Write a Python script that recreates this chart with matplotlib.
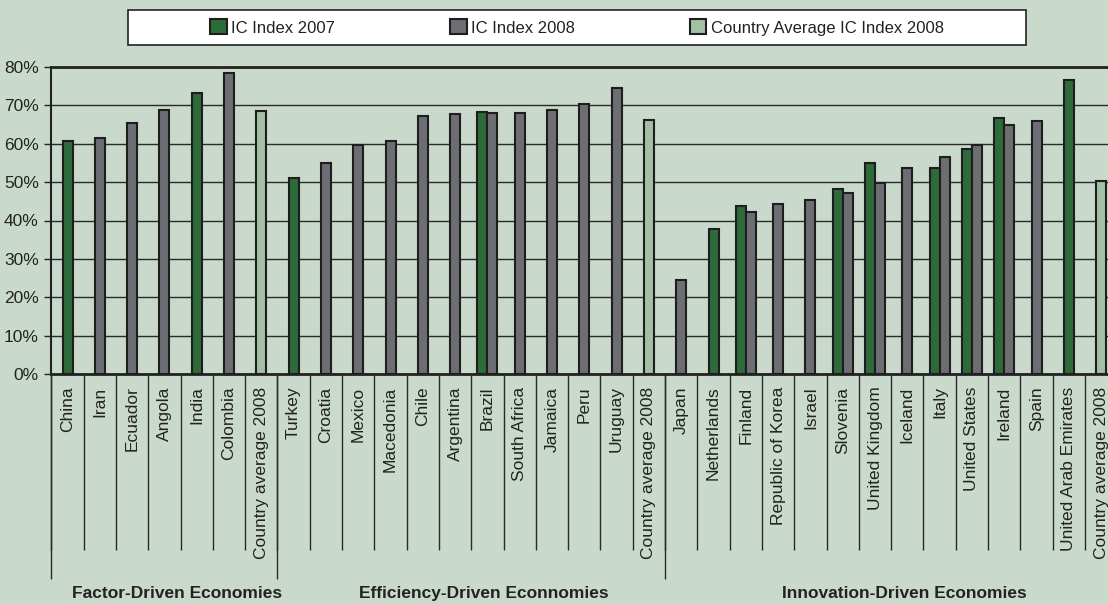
import numpy as np
import matplotlib.pyplot as plt
from matplotlib.patches import Patch, Rectangle

plt.rcParams['font.family'] = ['Liberation Sans', 'DejaVu Sans']

nan = np.nan

countries = [
    "China", "Iran", "Ecuador", "Angola", "India", "Colombia", "Country average 2008",
    "Turkey", "Croatia", "Mexico", "Macedonia", "Chile", "Argentina", "Brazil",
    "South Africa", "Jamaica", "Peru", "Uruguay", "Country average 2008",
    "Japan", "Netherlands", "Finland", "Republic of Korea", "Israel", "Slovenia",
    "United Kingdom", "Iceland", "Italy", "United States", "Ireland", "Spain",
    "United Arab Emirates", "Country average 2008",
]

ic_2007 = [
    60.6, nan, nan, nan, 73.2, nan, nan,
    51.1, nan, nan, nan, nan, nan, 68.2, nan, nan, nan, nan, nan,
    nan, 37.7, 43.7, nan, nan, 48.3, 55.0, nan, 53.8, 58.6, 66.6, nan, 76.6, nan,
]
ic_2008 = [
    nan, 61.6, 65.4, 68.8, nan, 78.5, nan,
    nan, 54.9, 59.6, 60.7, 67.2, 67.8, 68.0, 68.0, 68.9, 70.3, 74.6, nan,
    24.6, nan, 42.3, 44.2, 45.3, 47.1, 49.9, 53.6, 56.5, 59.6, 64.8, 65.8, nan, nan,
]
country_avg = [
    nan, nan, nan, nan, nan, nan, 68.6,
    nan, nan, nan, nan, nan, nan, nan, nan, nan, nan, nan, 66.1,
    nan, nan, nan, nan, nan, nan, nan, nan, nan, nan, nan, nan, nan, 50.3,
]

groups = ["Factor-Driven Economies", "Efficiency-Driven Econnomies", "Innovation-Driven Economies"]
group_sizes = [7, 12, 14]

legend_labels = ["IC Index 2007", "IC Index 2008", "Country Average IC Index 2008"]

# colours
bg = "#c9d9cb"
green = "#2e6b3a"
gray = "#6d6e73"
light = "#a3bfa4"
edge = "#1e1e1e"

W, H = 1108, 604
cat_px = 32.3
left_px = 51.35

fig = plt.figure(figsize=(W / 100, H / 100), dpi=100, facecolor=bg)
ax = fig.add_axes([left_px / W, 1 - 374 / H, (W - left_px) / W, 307 / H])
ax.set_facecolor(bg)

n = len(countries)
x = np.arange(n)
a07 = np.array(ic_2007, dtype=float)
a08 = np.array(ic_2008, dtype=float)
avg = np.array(country_avg, dtype=float)

w = 10 / cat_px
both = ~np.isnan(a07) & ~np.isnan(a08)
x07 = x - np.where(both, w / 2, 0)
x08 = x + np.where(both, w / 2, 0)

m = ~np.isnan(a07)
ax.bar(x07[m], a07[m], w, color=green, edgecolor=edge, linewidth=1.5, zorder=3)
m = ~np.isnan(a08)
ax.bar(x08[m], a08[m], w, color=gray, edgecolor=edge, linewidth=1.5, zorder=3)
m = ~np.isnan(avg)
ax.bar(x[m], avg[m], w, color=light, edgecolor=edge, linewidth=1.5, zorder=3)

ax.set_xlim(-0.5, (W - left_px) / cat_px - 0.5)
ax.set_ylim(0, 80)

ax.set_yticks(range(0, 90, 10))
ax.set_yticklabels([f"{v}%" for v in range(0, 90, 10)], fontsize=12.5, color="#222222")
ax.tick_params(axis="y", length=5, width=1, color="#222222", pad=4)
ax.yaxis.grid(True, color="#2a2a2a", linewidth=1)
ax.set_axisbelow(True)

ax.set_xticks(x)
ax.set_xticklabels(countries, rotation=90, fontsize=12.5, color="#222222", va="top", ha="center")
ax.tick_params(axis="x", length=0, pad=9)

for s in ["top", "bottom"]:
    ax.spines[s].set_linewidth(2)
    ax.spines[s].set_color("#222222")
ax.spines["left"].set_linewidth(1.5)
ax.spines["left"].set_color("#222222")
ax.spines["right"].set_visible(False)

# category and group separators under the axis
trans = ax.get_xaxis_transform()
edges = np.arange(n + 1) - 0.5
ax.vlines(edges, 0, -0.572, transform=trans, clip_on=False, color="#2a2a2a", linewidth=1)
starts = np.concatenate([[0], np.cumsum(group_sizes)[:-1]])
ax.vlines(starts - 0.5, 0, -0.667, transform=trans, clip_on=False, color="#2a2a2a", linewidth=1)
for s, size, name in zip(starts, group_sizes, groups):
    ax.text(s + size / 2 - 0.5 + 0.4, -0.715, name, transform=trans, ha="center", va="center",
            fontsize=12.5, fontweight="bold", color="#222222")

# legend box
fig.patches.append(Rectangle((128 / W, 1 - 45 / H), 898 / W, 35 / H, transform=fig.transFigure,
                             facecolor="white", edgecolor="#222222", linewidth=1.2))
handles = [Patch(facecolor=c, edgecolor=edge, linewidth=1.5) for c in (green, gray, light)]
fig.legend(handles, legend_labels, loc="center", bbox_to_anchor=(577 / W, 1 - 27.5 / H), ncol=3,
           frameon=False, fontsize=12, handlelength=1.0, handleheight=1.0, handletextpad=0.25,
           columnspacing=6.9, labelcolor="#222222")

fig.savefig("out.png", dpi=100, facecolor=bg)
